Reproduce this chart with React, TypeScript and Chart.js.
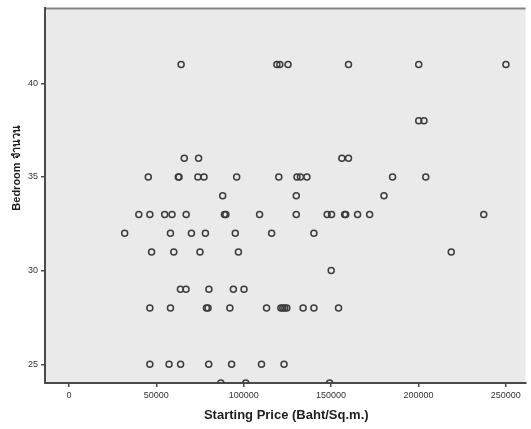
import React, { useEffect, useRef } from "react";
import { Chart, registerables } from "chart.js";

Chart.register(...registerables);

// Bedroom levels (y) and the starting prices (Baht/Sq.m.) observed at each level
const bedroomLevels = [41, 38, 36, 35, 34, 33, 32, 31, 30, 29, 28, 25, 24];
const prices41 = [64200, 119000, 120700, 125400, 160000, 200200, 250100];
const prices38 = [200200, 203200];
const prices36 = [66000, 74200, 156200, 160000];
const prices35 = [45400, 62600, 63000, 73800, 77300, 96000, 120100, 130500, 132500, 136200, 185200, 204200];
const prices34 = [88000, 130100, 180300];
const prices33 = [40000, 46300, 54800, 59000, 67100, 89000, 89800, 109100, 130100, 147800, 150300, 157800, 158400, 165200, 172100, 237400];
const prices32 = [31900, 58100, 70100, 78100, 95200, 116000, 140200];
const prices31 = [47300, 60000, 75000, 97000, 218800];
const prices30 = [150100];
const prices29 = [63800, 67000, 80100, 94100, 100200];
const prices28 = [46300, 58100, 78700, 79600, 92100, 113100, 121300, 122400, 123500, 124700, 134000, 140200, 154300];
const prices25 = [46300, 57300, 63900, 80000, 93100, 110200, 123100];
const prices24 = [86900, 101200, 149200];

const pricesByLevel = [
  prices41, prices38, prices36, prices35, prices34, prices33, prices32,
  prices31, prices30, prices29, prices28, prices25, prices24,
];

const xTicks = [0, 50000, 100000, 150000, 200000, 250000];
const yTicks = [25, 30, 35, 40];
const xTitle = "Starting Price (Baht/Sq.m.)";
const yTitle = "Bedroom จำนวน";

const FONT = "'Liberation Sans', Arial, sans-serif";

export default function App() {
  const ref = useRef<HTMLCanvasElement | null>(null);

  useEffect(() => {
    if (!ref.current) return;
    const points: { x: number; y: number }[] = [];
    bedroomLevels.forEach((lvl, i) => {
      pricesByLevel[i].forEach((p) => points.push({ x: p, y: lvl }));
    });

    const bgPlugin = {
      id: "spssBackground",
      beforeDraw(chart: any) {
        const { ctx, chartArea: a } = chart;
        ctx.save();
        ctx.fillStyle = "#ffffff";
        ctx.fillRect(0, 0, chart.width, chart.height);
        ctx.fillStyle = "#eaeaea";
        ctx.fillRect(a.left, a.top, a.right - a.left, a.bottom - a.top);
        ctx.strokeStyle = "#858585";
        ctx.lineWidth = 2;
        ctx.beginPath();
        ctx.moveTo(a.left, a.top);
        ctx.lineTo(a.right, a.top);
        ctx.stroke();
        ctx.restore();
      },
      afterDraw(chart: any) {
        const { ctx, chartArea: a } = chart;
        ctx.save();
        ctx.fillStyle = "#1e1e1e";
        ctx.font = `bold 13px ${FONT}`;
        ctx.textAlign = "center";
        ctx.textBaseline = "middle";
        ctx.fillText(xTitle, (a.left + a.right) / 2 + 1, 415);
        ctx.translate(17, 168);
        ctx.rotate(-Math.PI / 2);
        ctx.font = `bold 11px ${FONT}`;
        ctx.fillText(yTitle, 0, 0);
        ctx.restore();
      },
    };

    const chart = new Chart(ref.current, {
      type: "scatter",
      data: {
        datasets: [
          {
            data: points,
            pointStyle: "circle",
            pointRadius: 3,
            pointBorderWidth: 1.5,
            borderColor: "#3c3c3c",
            backgroundColor: "rgba(0,0,0,0)",
            pointBackgroundColor: "rgba(0,0,0,0)",
            clip: { left: 10, top: 10, right: 10, bottom: 0 } as any,
          },
        ],
      },
      options: {
        animation: false,
        responsive: false,
        layout: { padding: { top: 7, right: 3, bottom: 0, left: 0 } },
        plugins: {
          legend: { display: false },
          tooltip: { enabled: false },
          title: { display: false },
        },
        scales: {
          x: {
            type: "linear",
            min: -13700,
            max: 261300,
            z: 1,
            afterFit: (s: any) => {
              s.height = 46;
            },
            afterBuildTicks: (s: any) => {
              s.ticks = xTicks.map((v) => ({ value: v }));
            },
            border: { display: true, color: "#4a4a4a", width: 2 },
            grid: {
              display: true,
              drawOnChartArea: false,
              drawTicks: true,
              tickLength: 4,
              tickColor: "#4a4a4a",
              lineWidth: 1.5,
            },
            ticks: {
              padding: 3,
              color: "#333333",
              font: { family: FONT, size: 9 },
              maxRotation: 0,
              callback: (v: any) => String(v),
            },
          },
          y: {
            type: "linear",
            min: 24,
            max: 44,
            z: 1,
            afterFit: (s: any) => {
              s.width = 45;
            },
            afterBuildTicks: (s: any) => {
              s.ticks = yTicks.map((v) => ({ value: v }));
            },
            border: { display: true, color: "#4a4a4a", width: 2 },
            grid: {
              display: true,
              drawOnChartArea: false,
              drawTicks: true,
              tickLength: 4,
              tickColor: "#4a4a4a",
              lineWidth: 1.5,
            },
            ticks: {
              padding: 3,
              color: "#333333",
              font: { family: FONT, size: 9 },
              callback: (v: any) => String(v),
            },
          },
        },
      },
      plugins: [bgPlugin],
    });
    return () => chart.destroy();
  }, []);

  return (
    <canvas
      ref={ref}
      width={531}
      height={429}
      style={{ position: "absolute", left: 0, top: 0, display: "block", width: 531, height: 429 }}
    />
  );
}
